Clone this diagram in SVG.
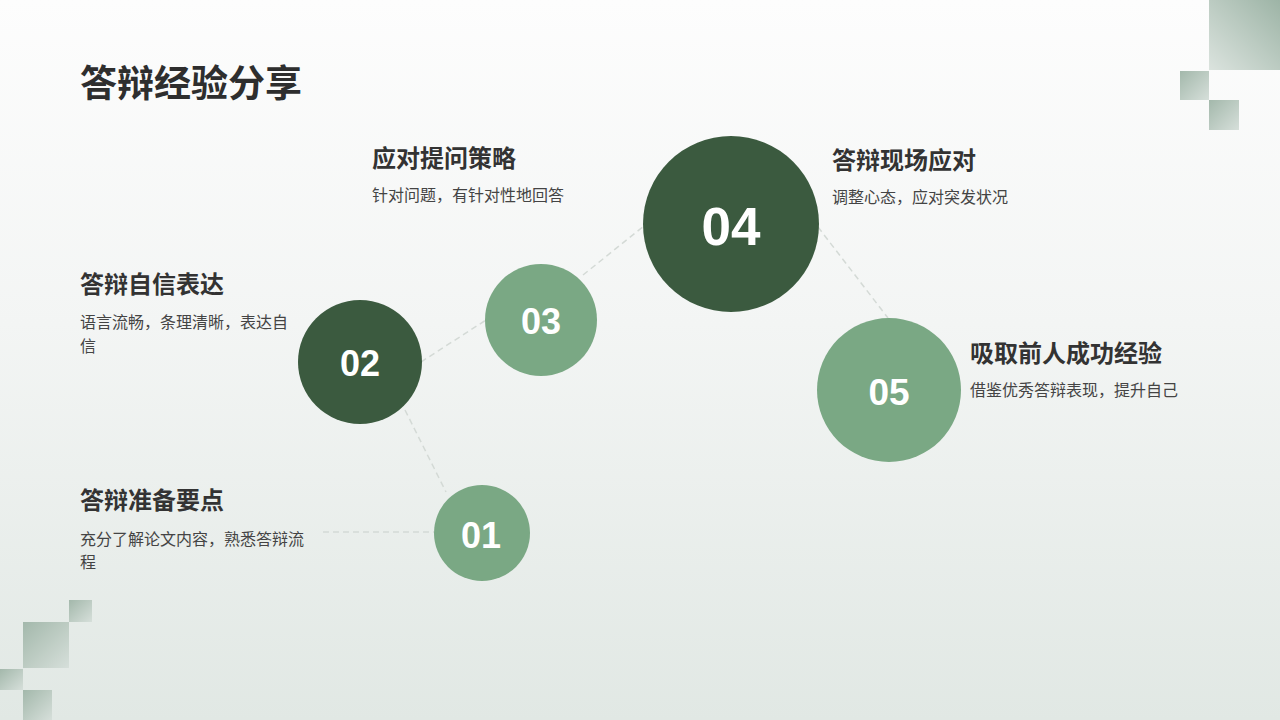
<svg xmlns="http://www.w3.org/2000/svg" width="1280" height="720" viewBox="0 0 1280 720">
<defs>
<linearGradient id="bg" x1="0" y1="0" x2="0" y2="1">
<stop offset="0" stop-color="#fdfdfd"/>
<stop offset="0.45" stop-color="#f3f5f4"/>
<stop offset="1" stop-color="#e1e8e4"/>
</linearGradient>
<linearGradient id="sq" x1="1" y1="0" x2="0" y2="1">
<stop offset="0" stop-color="#9db4a6"/>
<stop offset="1" stop-color="#dbe3de"/>
</linearGradient>
<linearGradient id="sq2" x1="0" y1="0" x2="1" y2="1">
<stop offset="0" stop-color="#a3b8ab"/>
<stop offset="1" stop-color="#d6dfda"/>
</linearGradient>
<style>
.title{font-family:"Noto Sans CJK SC","Noto Sans",sans-serif;font-weight:700;font-size:37px;fill:#2e2e2e}
.head{font-family:"Noto Sans CJK SC","Noto Sans",sans-serif;font-weight:700;font-size:24px;fill:#333333}
.desc{font-family:"Noto Sans CJK SC","Noto Sans",sans-serif;font-size:16px;fill:#444444}
.num{font-family:"Liberation Sans",Arial,sans-serif;font-weight:700;fill:#ffffff;text-anchor:middle}
.dark{fill:#3b5a3f}
.light{fill:#7aa884}
.conn{stroke:#d4dad6;stroke-width:1.5;stroke-dasharray:6 4;fill:none}
</style>
</defs>
<rect x="0" y="0" width="1280" height="720" fill="url(#bg)"/>
<g id="decor">
<rect x="1209" y="0" width="71" height="70" fill="url(#sq)"/>
<rect x="1180" y="71" width="29" height="29" fill="url(#sq2)"/>
<rect x="1209" y="100" width="30" height="30" fill="url(#sq2)"/>
<rect x="69" y="600" width="23" height="22" fill="url(#sq2)"/>
<rect x="23" y="622" width="46" height="46" fill="url(#sq2)"/>
<rect x="0" y="669" width="23" height="21" fill="url(#sq2)"/>
<rect x="23" y="690" width="29" height="30" fill="url(#sq2)"/>
</g>
<text class="title" x="80" y="97">答辩经验分享</text>
<g id="connectors">
<line class="conn" x1="323" y1="532" x2="434" y2="532"/>
<line class="conn" x1="405" y1="410" x2="446" y2="492"/>
<line class="conn" x1="421" y1="362" x2="486" y2="320"/>
<line class="conn" x1="583" y1="275" x2="644" y2="226"/>
<line class="conn" x1="818" y1="227" x2="888" y2="318"/>
</g>
<g id="node01">
<circle class="light" cx="482" cy="533" r="48"/>
<text class="num" x="481" y="548" font-size="36">01</text>
<text class="head" x="80" y="509">答辩准备要点</text>
<text class="desc" x="80" y="545">充分了解论文内容，熟悉答辩流</text>
<text class="desc" x="80" y="568">程</text>
</g>
<g id="node02">
<circle class="dark" cx="360" cy="362" r="62"/>
<text class="num" x="360" y="376" font-size="36">02</text>
<text class="head" x="80" y="293">答辩自信表达</text>
<text class="desc" x="80" y="328">语言流畅，条理清晰，表达自</text>
<text class="desc" x="80" y="352">信</text>
</g>
<g id="node03">
<circle class="light" cx="541" cy="320" r="56"/>
<text class="num" x="541" y="334" font-size="36">03</text>
<text class="head" x="372" y="167">应对提问策略</text>
<text class="desc" x="372" y="201">针对问题，有针对性地回答</text>
</g>
<g id="node04">
<circle class="dark" cx="731" cy="224" r="88"/>
<text class="num" x="731" y="245" font-size="53">04</text>
<text class="head" x="832" y="169">答辩现场应对</text>
<text class="desc" x="832" y="203">调整心态，应对突发状况</text>
</g>
<g id="node05">
<circle class="light" cx="889" cy="390" r="72"/>
<text class="num" x="889" y="405" font-size="37">05</text>
<text class="head" x="970" y="362">吸取前人成功经验</text>
<text class="desc" x="970" y="396">借鉴优秀答辩表现，提升自己</text>
</g>
</svg>
